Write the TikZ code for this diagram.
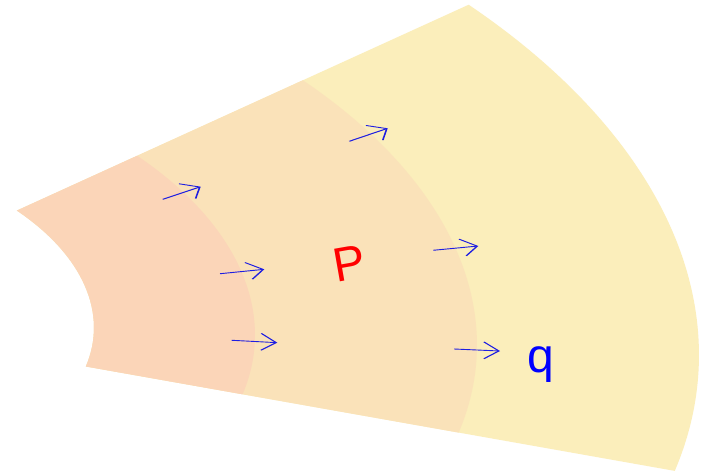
\documentclass[tikz,border=0pt]{standalone}
\usepackage{fontspec}
\setmainfont{Liberation Sans}
\usetikzlibrary{arrows.meta}
\definecolor{bandinner}{RGB}{251,213,184}
\definecolor{bandmid}{RGB}{250,226,185}
\definecolor{bandouter}{RGB}{251,238,187}
\definecolor{arrowblue}{RGB}{30,30,225}
\tikzset{
  flux/.style={draw=arrowblue, line width=1.6pt, -{Straight Barb[length=15pt,width=30pt]}},
  lbl/.style={inner sep=0pt, font=\fontsize{48}{52}\selectfont}
}
\begin{document}
\begin{tikzpicture}[x=1pt,y=1pt]
\useasboundingbox (0,0) rectangle (710,-474);
\fill[white] (0,0) rectangle (710,-474);
\begin{scope}[transform canvas={cm={1,-0.045,0,0.562,(-210pt,-314pt)}}]
  \def\ta{-13.25}
  \def\tb{41.7}
  \fill[bandouter] (\ta:304pt) arc[start angle=\ta, end angle=\tb, radius=304pt]
    -- (\tb:909pt) arc[start angle=\tb, end angle=\ta, radius=909pt] -- cycle;
  \fill[bandmid] (\ta:304pt) arc[start angle=\ta, end angle=\tb, radius=304pt]
    -- (\tb:687pt) arc[start angle=\tb, end angle=\ta, radius=687pt] -- cycle;
  \fill[bandinner] (\ta:304pt) arc[start angle=\ta, end angle=\tb, radius=304pt]
    -- (\tb:465pt) arc[start angle=\tb, end angle=\ta, radius=465pt] -- cycle;
  \coordinate (a1s) at (372.7,233.9);
  \coordinate (a1e) at (410.7,259.4);
  \coordinate (a2s) at (430,106.1);
  \coordinate (a2e) at (474.3,117.5);
  \coordinate (a3s) at (441.7,-11.4);
  \coordinate (a3e) at (487.3,-12.0);
  \coordinate (a4s) at (559.3,352.1);
  \coordinate (a4e) at (597.7,378.3);
  \coordinate (a5s) at (643.3,164.9);
  \coordinate (a5e) at (688.3,176.1);
  \coordinate (a6s) at (664,-9.1);
  \coordinate (a6e) at (710,-9.0);
  \draw[flux] (a1s) -- (a1e);
  \draw[flux] (a2s) -- (a2e);
  \draw[flux] (a3s) -- (a3e);
  \draw[flux] (a4s) -- (a4e);
  \draw[flux] (a5s) -- (a5e);
  \draw[flux] (a6s) -- (a6e);
\end{scope}
\node[lbl, text=red, rotate=10] (P) at (349,-263) {P};
\node[lbl, text=blue] (q) at (541,-365) {q};
\end{tikzpicture}
\end{document}
